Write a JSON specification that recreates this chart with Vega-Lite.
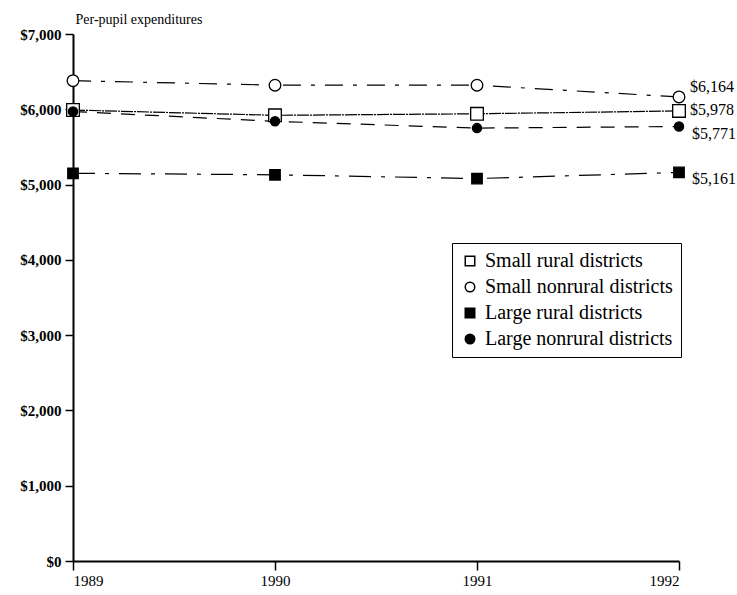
{
  "$schema": "https://vega.github.io/schema/vega-lite/v6.json",
  "autosize": "none",
  "width": 606,
  "height": 527,
  "padding": {"left": 73, "top": 34, "right": 58, "bottom": 34},
  "background": "white",
  "config": {
    "view": {"stroke": null},
    "font": "Liberation Serif"
  },
  "data": {
    "values": [
      {"year": 1989, "series": "Small rural districts", "value": 5990},
      {"year": 1990, "series": "Small rural districts", "value": 5920},
      {"year": 1991, "series": "Small rural districts", "value": 5940},
      {"year": 1992, "series": "Small rural districts", "value": 5978},
      {"year": 1989, "series": "Small nonrural districts", "value": 6380},
      {"year": 1990, "series": "Small nonrural districts", "value": 6320},
      {"year": 1991, "series": "Small nonrural districts", "value": 6320},
      {"year": 1992, "series": "Small nonrural districts", "value": 6164},
      {"year": 1989, "series": "Large rural districts", "value": 5150},
      {"year": 1990, "series": "Large rural districts", "value": 5130},
      {"year": 1991, "series": "Large rural districts", "value": 5080},
      {"year": 1992, "series": "Large rural districts", "value": 5161},
      {"year": 1989, "series": "Large nonrural districts", "value": 5970},
      {"year": 1990, "series": "Large nonrural districts", "value": 5840},
      {"year": 1991, "series": "Large nonrural districts", "value": 5750},
      {"year": 1992, "series": "Large nonrural districts", "value": 5771}
    ]
  },
  "encoding": {
    "x": {
      "field": "year",
      "type": "quantitative",
      "scale": {"domain": [1989, 1992], "nice": false, "zero": false},
      "axis": {
        "values": [1989, 1990, 1991, 1992],
        "format": "d",
        "title": null,
        "grid": false,
        "domainColor": "black",
        "domainWidth": 2,
        "tickColor": "black",
        "tickWidth": 1.5,
        "tickSize": 9,
        "labelFont": "Liberation Serif",
        "labelFontSize": 15,
        "labelColor": "black",
        "labelPadding": 3
      }
    },
    "y": {
      "field": "value",
      "type": "quantitative",
      "scale": {"domain": [0, 7000], "nice": false},
      "axis": {
        "values": [0, 1000, 2000, 3000, 4000, 5000, 6000, 7000],
        "format": "$,.0f",
        "grid": false,
        "domainColor": "black",
        "domainWidth": 2,
        "tickColor": "black",
        "tickWidth": 1.5,
        "tickSize": 8,
        "labelFont": "Liberation Serif",
        "labelFontSize": 15,
        "labelFontWeight": "bold",
        "labelColor": "black",
        "labelPadding": 4,
        "title": "Per-pupil expenditures",
        "titleAngle": 0,
        "titleX": 2,
        "titleY": -8,
        "titleAlign": "left",
        "titleBaseline": "bottom",
        "titleFont": "Liberation Serif",
        "titleFontSize": 14,
        "titleFontWeight": "normal",
        "titleColor": "black"
      }
    }
  },
  "layer": [
    {
      "mark": {"type": "line", "color": "black", "strokeWidth": 1.2},
      "encoding": {
        "detail": {"field": "series", "type": "nominal"},
        "strokeDash": {
          "field": "series",
          "type": "nominal",
          "scale": {
            "domain": ["Large nonrural districts", "Large rural districts", "Small nonrural districts", "Small rural districts"],
            "range": [[14, 10], [22, 10, 4, 10], [18, 10, 4, 10], [12, 1, 2, 1]]
          },
          "legend": null
        }
      }
    },
    {
      "mark": {"type": "point", "filled": true, "stroke": "black", "strokeWidth": 1.3, "opacity": 1},
      "encoding": {
        "size": {
          "field": "series",
          "type": "nominal",
          "scale": {
            "domain": ["Large nonrural districts", "Large rural districts", "Small nonrural districts", "Small rural districts"],
            "range": [85, 160, 155, 115]
          },
          "legend": null
        },
        "shape": {
          "field": "series",
          "type": "nominal",
          "scale": {
            "domain": ["Small rural districts", "Small nonrural districts", "Large rural districts", "Large nonrural districts"],
            "range": ["square", "circle", "square", "circle"]
          },
          "legend": {
            "title": null,
            "orient": "none",
            "legendX": 379,
            "legendY": 209,
            "padding": 8,
            "strokeColor": "black",
            "fillColor": "white",
            "labelFont": "Liberation Serif",
            "labelFontSize": 20,
            "labelColor": "black",
            "labelLimit": 400,
            "symbolSize": 90,
            "rowPadding": 6,
            "labelOffset": 5,
            "encode": {"symbols": {"update": {"stroke": {"value": "black"}, "strokeWidth": {"value": 1.2}}}}
          }
        },
        "fill": {
          "field": "series",
          "type": "nominal",
          "scale": {
            "domain": ["Small rural districts", "Small nonrural districts", "Large rural districts", "Large nonrural districts"],
            "range": ["white", "white", "black", "black"]
          },
          "legend": {
            "title": null,
            "orient": "none",
            "legendX": 379,
            "legendY": 209,
            "padding": 8,
            "strokeColor": "black",
            "fillColor": "white",
            "labelFont": "Liberation Serif",
            "labelFontSize": 20,
            "labelColor": "black",
            "labelLimit": 400,
            "symbolSize": 90,
            "rowPadding": 6,
            "labelOffset": 5,
            "encode": {"symbols": {"update": {"stroke": {"value": "black"}, "strokeWidth": {"value": 1.2}}}}
          }
        }
      }
    },
    {
      "transform": [{"filter": "datum.year == 1992 && datum.series == 'Small nonrural districts'"}],
      "mark": {"type": "text", "align": "left", "baseline": "middle", "dx": 11, "dy": -10, "font": "Liberation Serif", "fontSize": 16, "color": "black"},
      "encoding": {
        "text": {"field": "value", "type": "quantitative", "format": "$,.0f"}
      }
    },
    {
      "transform": [{"filter": "datum.year == 1992 && datum.series == 'Small rural districts'"}],
      "mark": {"type": "text", "align": "left", "baseline": "middle", "dx": 11, "dy": -1, "font": "Liberation Serif", "fontSize": 16, "color": "black"},
      "encoding": {
        "text": {"field": "value", "type": "quantitative", "format": "$,.0f"}
      }
    },
    {
      "transform": [{"filter": "datum.year == 1992 && (datum.series == 'Large nonrural districts' || datum.series == 'Large rural districts')"}],
      "mark": {"type": "text", "align": "left", "baseline": "middle", "dx": 13, "dy": 7, "font": "Liberation Serif", "fontSize": 16, "color": "black"},
      "encoding": {
        "text": {"field": "value", "type": "quantitative", "format": "$,.0f"}
      }
    }
  ]
}
